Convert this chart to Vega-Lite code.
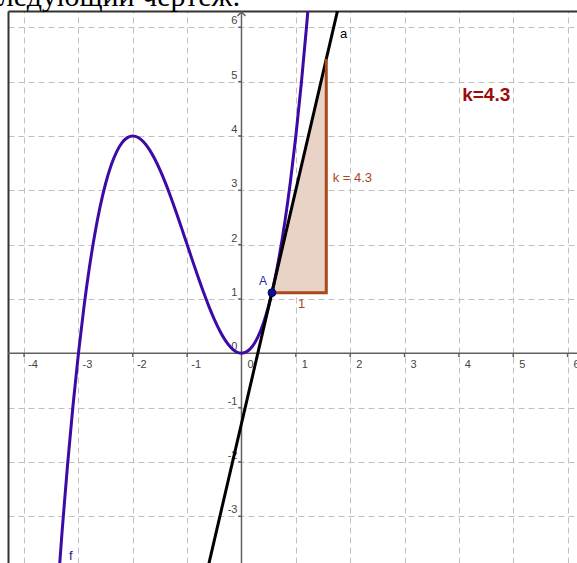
{
  "$schema": "https://vega.github.io/schema/vega-lite/v6.json",
  "width": 569,
  "height": 552,
  "autosize": {"type": "none"},
  "padding": {"left": 8, "top": 11, "right": 0, "bottom": 0},
  "background": "white",
  "config": {"view": {"stroke": null}},
  "datasets": {
    "f": [
      {"x": -3.4, "y": -4.624}, {"x": -3.3, "y": -3.267}, {"x": -3.2, "y": -2.048}, {"x": -3.1, "y": -0.961},
      {"x": -3.0, "y": 0}, {"x": -2.9, "y": 0.841}, {"x": -2.8, "y": 1.568}, {"x": -2.7, "y": 2.187},
      {"x": -2.6, "y": 2.704}, {"x": -2.5, "y": 3.125}, {"x": -2.4, "y": 3.456}, {"x": -2.3, "y": 3.703},
      {"x": -2.2, "y": 3.872}, {"x": -2.1, "y": 3.969}, {"x": -2.0, "y": 4}, {"x": -1.9, "y": 3.971},
      {"x": -1.8, "y": 3.888}, {"x": -1.7, "y": 3.757}, {"x": -1.6, "y": 3.584}, {"x": -1.5, "y": 3.375},
      {"x": -1.4, "y": 3.136}, {"x": -1.3, "y": 2.873}, {"x": -1.2, "y": 2.592}, {"x": -1.1, "y": 2.299},
      {"x": -1.0, "y": 2}, {"x": -0.9, "y": 1.701}, {"x": -0.8, "y": 1.408}, {"x": -0.7, "y": 1.127},
      {"x": -0.6, "y": 0.864}, {"x": -0.5, "y": 0.625}, {"x": -0.4, "y": 0.416}, {"x": -0.3, "y": 0.243},
      {"x": -0.2, "y": 0.112}, {"x": -0.1, "y": 0.029}, {"x": 0, "y": 0}, {"x": 0.1, "y": 0.031},
      {"x": 0.2, "y": 0.128}, {"x": 0.3, "y": 0.297}, {"x": 0.4, "y": 0.544}, {"x": 0.5, "y": 0.875},
      {"x": 0.6, "y": 1.296}, {"x": 0.7, "y": 1.813}, {"x": 0.8, "y": 2.432}, {"x": 0.9, "y": 3.159},
      {"x": 1.0, "y": 4}, {"x": 1.1, "y": 4.961}, {"x": 1.2, "y": 6.048}, {"x": 1.3, "y": 7.267}
    ],
    "tangent": [{"x": -0.7, "y": -4.302}, {"x": 1.8, "y": 6.448}],
    "tri": [{"x": 0.56, "y": 1.116, "y2": 1.116}, {"x": 1.56, "y": 5.416, "y2": 1.116}],
    "legs": [{"x": 0.56, "y": 1.116, "o": 1}, {"x": 1.56, "y": 1.116, "o": 2}, {"x": 1.56, "y": 5.416, "o": 3}],
    "pointA": [{"x": 0.56, "y": 1.116}],
    "arrow": [{"x": 0, "y": 6.28}],
    "axes": [
      {"x": -5, "x2": 7, "y": 0, "y2": 0},
      {"x": 0, "x2": 0, "y": -4, "y2": 6.28},
      {"x": -4, "x2": -4, "y": 0, "y2": -0.07}, {"x": -3, "x2": -3, "y": 0, "y2": -0.07},
      {"x": -2, "x2": -2, "y": 0, "y2": -0.07}, {"x": -1, "x2": -1, "y": 0, "y2": -0.07},
      {"x": 1, "x2": 1, "y": 0, "y2": -0.07}, {"x": 2, "x2": 2, "y": 0, "y2": -0.07},
      {"x": 3, "x2": 3, "y": 0, "y2": -0.07}, {"x": 4, "x2": 4, "y": 0, "y2": -0.07},
      {"x": 5, "x2": 5, "y": 0, "y2": -0.07}, {"x": 6, "x2": 6, "y": 0, "y2": -0.07},
      {"x": 0, "x2": -0.06, "y": -3, "y2": -3}, {"x": 0, "x2": -0.06, "y": -2, "y2": -2},
      {"x": 0, "x2": -0.06, "y": -1, "y2": -1}, {"x": 0, "x2": -0.06, "y": 1, "y2": 1},
      {"x": 0, "x2": -0.06, "y": 2, "y2": 2}, {"x": 0, "x2": -0.06, "y": 3, "y2": 3},
      {"x": 0, "x2": -0.06, "y": 4, "y2": 4}, {"x": 0, "x2": -0.06, "y": 5, "y2": 5},
      {"x": 0, "x2": -0.06, "y": 6, "y2": 6}
    ],
    "xlab": [
      {"x": -4, "y": 0, "t": "-4"}, {"x": -3, "y": 0, "t": "-3"}, {"x": -2, "y": 0, "t": "-2"},
      {"x": -1, "y": 0, "t": "-1"}, {"x": 0, "y": 0, "t": "0"}, {"x": 1, "y": 0, "t": "1"},
      {"x": 2, "y": 0, "t": "2"}, {"x": 3, "y": 0, "t": "3"}, {"x": 4, "y": 0, "t": "4"},
      {"x": 5, "y": 0, "t": "5"}, {"x": 6, "y": 0, "t": "6"}
    ],
    "ylab": [
      {"x": 0, "y": -3, "t": "-3"}, {"x": 0, "y": -2, "t": "-2"}, {"x": 0, "y": -1, "t": "-1"},
      {"x": 0, "y": 0, "t": "0"}, {"x": 0, "y": 1, "t": "1"}, {"x": 0, "y": 2, "t": "2"},
      {"x": 0, "y": 3, "t": "3"}, {"x": 0, "y": 4, "t": "4"}, {"x": 0, "y": 5, "t": "5"},
      {"x": 0, "y": 6, "t": "6"}
    ],
    "heading": [{"x": -4.71, "y": 6.383, "t": "следующий чертеж:"}],
    "kbig": [{"x": 4.06, "y": 4.65, "t": "k=4.3"}],
    "brown": [{"x": 1.678, "y": 3.158, "t": "k = 4.3"}],
    "one": [{"x": 1.108, "y": 0.828, "t": "1"}],
    "la": [{"x": 1.812, "y": 5.809, "t": "a"}],
    "lf": [{"x": -3.174, "y": -3.805, "t": "f"}],
    "lA": [{"x": 0.322, "y": 1.257, "t": "A"}]
  },
  "encoding": {
    "x": {
      "field": "x", "type": "quantitative",
      "scale": {"domain": [-4.296, 6.173], "nice": false, "zero": false},
      "axis": {"orient": "top", "values": [-4, -3, -2, -1, 1, 2, 3, 4, 5, 6], "grid": true, "gridColor": "#c0c0c0", "gridDash": [6, 4], "gridWidth": 1, "domain": true, "domainColor": "#333333", "domainWidth": 2, "ticks": false, "labels": false, "title": null}
    },
    "y": {
      "field": "y", "type": "quantitative",
      "scale": {"domain": [-3.86, 6.30], "nice": false, "zero": false},
      "axis": {"orient": "left", "values": [-3, -2, -1, 1, 2, 3, 4, 5, 6], "grid": true, "gridColor": "#c0c0c0", "gridDash": [6, 4], "gridWidth": 1, "domain": true, "domainColor": "#333333", "domainWidth": 2, "ticks": false, "labels": false, "title": null}
    }
  },
  "layer": [
    {
      "data": {"name": "axes"},
      "mark": {"type": "rule", "color": "#606060", "strokeWidth": 1.5, "clip": true},
      "encoding": {"x2": {"field": "x2"}, "y2": {"field": "y2"}}
    },
    {
      "data": {"name": "arrow"},
      "mark": {"type": "point", "shape": "M-1,1L0,0L1,1", "filled": false, "stroke": "#606060", "strokeWidth": 1.5, "size": 64, "opacity": 1}
    },
    {
      "data": {"name": "xlab"},
      "mark": {"type": "text", "align": "center", "baseline": "middle", "dx": 9, "dy": 12, "font": "Liberation Sans", "fontSize": 11, "color": "#444444"},
      "encoding": {"text": {"field": "t"}}
    },
    {
      "data": {"name": "ylab"},
      "mark": {"type": "text", "align": "right", "baseline": "middle", "dx": -4, "dy": -6, "font": "Liberation Sans", "fontSize": 11, "color": "#444444"},
      "encoding": {"text": {"field": "t"}}
    },
    {
      "data": {"name": "tri"},
      "mark": {"type": "area", "color": "#e9d3c7", "opacity": 1, "clip": true},
      "encoding": {"y2": {"field": "y2"}}
    },
    {
      "data": {"name": "f"},
      "mark": {"type": "line", "interpolate": "monotone", "color": "#3c0aa4", "strokeWidth": 3, "clip": true}
    },
    {
      "data": {"name": "tangent"},
      "mark": {"type": "line", "color": "#000000", "strokeWidth": 3, "clip": true}
    },
    {
      "data": {"name": "legs"},
      "mark": {"type": "line", "color": "#a8481c", "strokeWidth": 3, "strokeJoin": "miter", "clip": true},
      "encoding": {"order": {"field": "o", "type": "quantitative"}}
    },
    {
      "data": {"name": "pointA"},
      "mark": {"type": "point", "shape": "circle", "filled": true, "fill": "#10109a", "stroke": "#000050", "strokeWidth": 1, "size": 60, "opacity": 1}
    },
    {
      "data": {"name": "heading"},
      "mark": {"type": "text", "align": "left", "baseline": "alphabetic", "font": "Liberation Serif", "fontSize": 30, "color": "#000000"},
      "encoding": {"text": {"field": "t"}}
    },
    {
      "data": {"name": "kbig"},
      "mark": {"type": "text", "align": "left", "baseline": "alphabetic", "font": "Liberation Sans", "fontSize": 19, "fontWeight": "bold", "color": "#9e0b0b"},
      "encoding": {"text": {"field": "t"}}
    },
    {
      "data": {"name": "brown"},
      "mark": {"type": "text", "align": "left", "baseline": "alphabetic", "font": "Liberation Sans", "fontSize": 13, "color": "#a8481c"},
      "encoding": {"text": {"field": "t"}}
    },
    {
      "data": {"name": "one"},
      "mark": {"type": "text", "align": "center", "baseline": "alphabetic", "font": "Liberation Sans", "fontSize": 13, "color": "#a8481c"},
      "encoding": {"text": {"field": "t"}}
    },
    {
      "data": {"name": "la"},
      "mark": {"type": "text", "align": "left", "baseline": "alphabetic", "font": "Liberation Sans", "fontSize": 13, "color": "#000000"},
      "encoding": {"text": {"field": "t"}}
    },
    {
      "data": {"name": "lf"},
      "mark": {"type": "text", "align": "left", "baseline": "alphabetic", "font": "Liberation Sans", "fontSize": 13, "color": "#3c0aa4"},
      "encoding": {"text": {"field": "t"}}
    },
    {
      "data": {"name": "lA"},
      "mark": {"type": "text", "align": "left", "baseline": "alphabetic", "font": "Liberation Sans", "fontSize": 12, "color": "#2828a8"},
      "encoding": {"text": {"field": "t"}}
    }
  ]
}
